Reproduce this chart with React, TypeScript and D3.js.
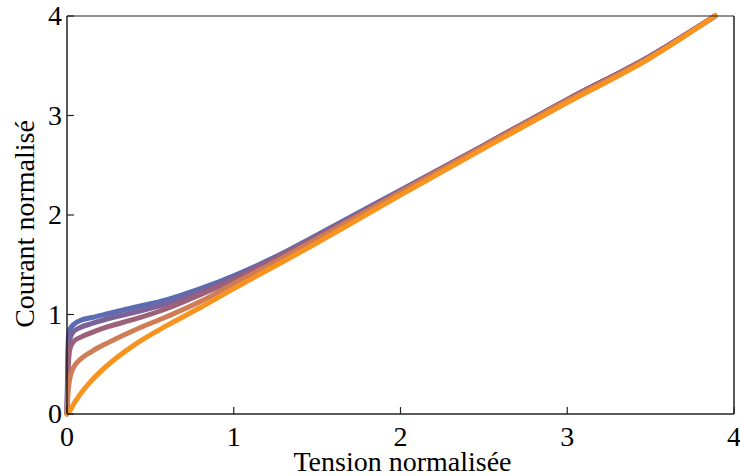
import React from "react";
import * as d3 from "d3";

const voltage = [0, 0.005, 0.01, 0.02, 0.04, 0.08, 0.15, 0.25, 0.4, 0.6, 0.8, 1.0, 1.25, 1.5, 2.0, 2.5, 3.0, 3.5, 3.886];

const currentBlue = [0, 0.6, 0.8, 0.86, 0.9, 0.94, 0.97, 1.01, 1.07, 1.15, 1.26, 1.39, 1.58, 1.8, 2.25, 2.7, 3.16, 3.6, 4.0];
const currentPurple = [0, 0.5, 0.68, 0.77, 0.83, 0.87, 0.91, 0.96, 1.02, 1.11, 1.23, 1.37, 1.57, 1.79, 2.24, 2.7, 3.16, 3.6, 4.0];
const currentMauve = [0, 0.35, 0.55, 0.67, 0.73, 0.77, 0.82, 0.88, 0.95, 1.06, 1.2, 1.35, 1.56, 1.78, 2.24, 2.7, 3.16, 3.6, 4.0];
const currentTerracotta = [0, 0.18, 0.28, 0.38, 0.47, 0.55, 0.63, 0.72, 0.84, 0.98, 1.13, 1.31, 1.53, 1.76, 2.23, 2.69, 3.15, 3.59, 4.0];
const currentOrange = [0, 0.01, 0.02, 0.04, 0.1, 0.2, 0.34, 0.5, 0.69, 0.89, 1.07, 1.26, 1.49, 1.72, 2.2, 2.67, 3.13, 3.58, 4.0];

const seriesColors = ["#5c6cb2", "#7b6299", "#9c6179", "#cf7d56", "#f7931e"];
const seriesValues = [currentBlue, currentPurple, currentMauve, currentTerracotta, currentOrange];

const xTicks = [0, 1, 2, 3, 4];
const yTicks = [0, 1, 2, 3, 4];

const xLabel = "Tension normalisée";
const yLabel = "Courant normalisé";

const FONT = "Liberation Serif";

export default function App() {
  const W = 740;
  const H = 476;
  const left = 67;
  const right = 734;
  const top = 16;
  const bottom = 414;

  React.useEffect(() => {
    document.body.style.margin = "0";
  }, []);

  const x = d3.scaleLinear().domain([0, 4]).range([left, right]);
  const y = d3.scaleLinear().domain([0, 4]).range([bottom, top]);

  const line = d3
    .line<[number, number]>()
    .x((d) => x(d[0]))
    .y((d) => y(d[1]))
    .curve(d3.curveMonotoneX);

  return (
    <svg width={W} height={H} style={{ display: "block" }}>
      {seriesValues.map((vals, i) => {
        const pts: [number, number][] = voltage.map((v, k) => [v, vals[k]]);
        return (
          <path
            key={i}
            d={line(pts) || ""}
            fill="none"
            stroke={seriesColors[i]}
            strokeWidth={5}
            strokeLinecap="round"
            strokeLinejoin="round"
          />
        );
      })}
      <line x1={left} x2={right} y1={top} y2={top} stroke="#222" strokeWidth={1.2} />
      <line x1={right} x2={right} y1={top} y2={bottom} stroke="#222" strokeWidth={1.5} />
      <line x1={left} x2={right} y1={bottom} y2={bottom} stroke="#222" strokeWidth={1.5} />
      <line x1={left} x2={left} y1={top} y2={bottom} stroke="#222" strokeWidth={1.5} />
      {xTicks.map((t) => (
        <g key={"x" + t}>
          <line x1={x(t)} x2={x(t)} y1={bottom} y2={bottom - 7} stroke="#222" strokeWidth={1.2} />
          <text x={x(t)} y={446} textAnchor="middle" style={{ fontFamily: `"${FONT}"`, fontSize: "28px" }}>
            {t}
          </text>
        </g>
      ))}
      {yTicks.map((t) => (
        <g key={"y" + t}>
          <line x1={left} x2={left + 7} y1={y(t)} y2={y(t)} stroke="#222" strokeWidth={1.2} />
          <text x={62} y={y(t) + 9} textAnchor="end" style={{ fontFamily: `"${FONT}"`, fontSize: "28px" }}>
            {t}
          </text>
        </g>
      ))}
      <text
        x={(left + right) / 2 + 2}
        y={471}
        textAnchor="middle"
        style={{ fontFamily: `"${FONT}"`, fontSize: "28px" }}
      >
        {xLabel}
      </text>
      <text
        transform="translate(34, 224) rotate(-90)"
        textAnchor="middle"
        style={{ fontFamily: `"${FONT}"`, fontSize: "28px" }}
      >
        {yLabel}
      </text>
    </svg>
  );
}
